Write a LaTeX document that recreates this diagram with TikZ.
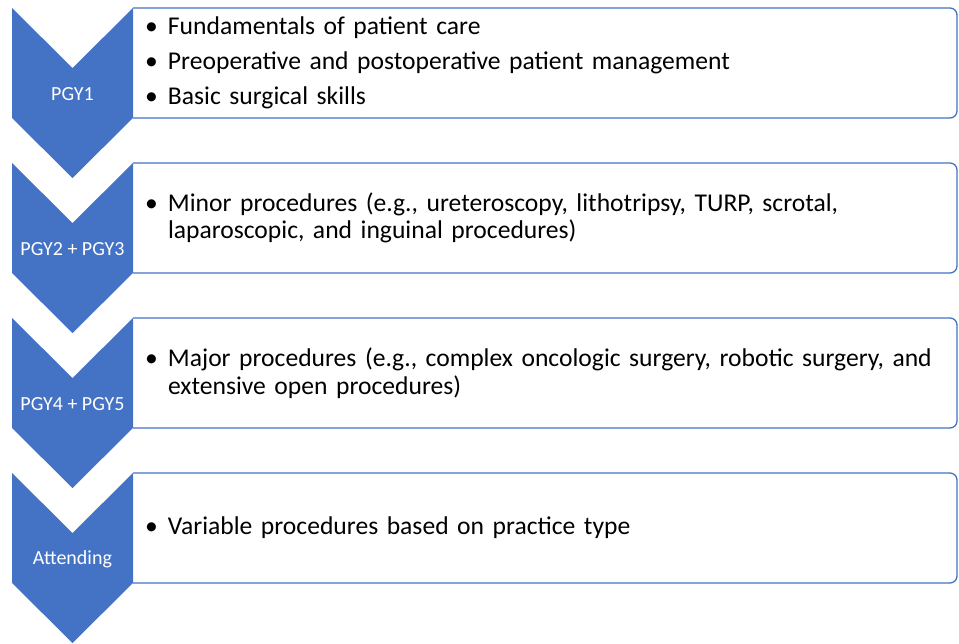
\documentclass[tikz,border=0pt]{standalone}
\usepackage{fontspec}
\setmainfont{Carlito}
\usepackage{tikz}
\usetikzlibrary{positioning,calc}
\definecolor{StageBlue}{HTML}{4472C4}
\newcommand{\bitem}{\makebox[23pt][l]{\textbullet}}
\newcommand{\bcont}{\hspace*{23pt}}
\tikzset{
  % Text panel
  TB/.style={rectangle,minimum width=824pt,minimum height=110pt,
             text width=800pt,inner xsep=12pt,outer sep=0pt,
             align=left,draw=none,
             font=\fontsize{25.6}{27.5}\selectfont},
  % Panel outline, right side rounded
  edge/.style={draw=StageBlue,line width=1.3pt},
  % Chevron
  chev/.style={fill=StageBlue},
  % Chevron label
  LB/.style={text=white,font=\fontsize{20}{22}\selectfont}
}
\begin{document}
\begin{tikzpicture}[x=1pt,y=1pt,node distance=45pt]
  \useasboundingbox (0,0) rectangle (959,-644);
  \node[TB] (b1) at (545,-63) {\bitem Fundamentals of patient care\\[7.5pt]
    \bitem Preoperative and postoperative patient management\\[7.5pt]
    \bitem Basic surgical skills};
  \node[TB,below=of b1] (b2) {\bitem Minor procedures (e.g., ureteroscopy, lithotripsy, TURP, scrotal,\\
    \bcont laparoscopic, and inguinal procedures)};
  \node[TB,below=of b2] (b3) {\bitem Major procedures (e.g., complex oncologic surgery, robotic surgery, and\\
    \bcont extensive open procedures)};
  \node[TB,below=of b3] (b4) {\bitem Variable procedures based on practice type};
  \foreach \b in {b1,b2,b3,b4} {
    \draw[edge,rounded corners=7pt] (\b.north west) -- (\b.north east)
      -- (\b.south east) -- (\b.south west);
    \fill[chev] (\b.north west) -- ++(-60.5,-60) -- ++(-60.5,60) -- ++(0,-110)
      -- ++(60.5,-60) -- ++(60.5,60) -- cycle;
  }
  \node[LB] (l1) at ($(b1.north west)+(-60.5,-86)$) {PGY1};
  \node[LB] (l2) at ($(b2.north west)+(-60.5,-86)$) {PGY2 + PGY3};
  \node[LB] (l3) at ($(b3.north west)+(-60.5,-86)$) {PGY4 + PGY5};
  \node[LB] (l4) at ($(b4.north west)+(-60.5,-86)$) {Attending};
\end{tikzpicture}
\end{document}
